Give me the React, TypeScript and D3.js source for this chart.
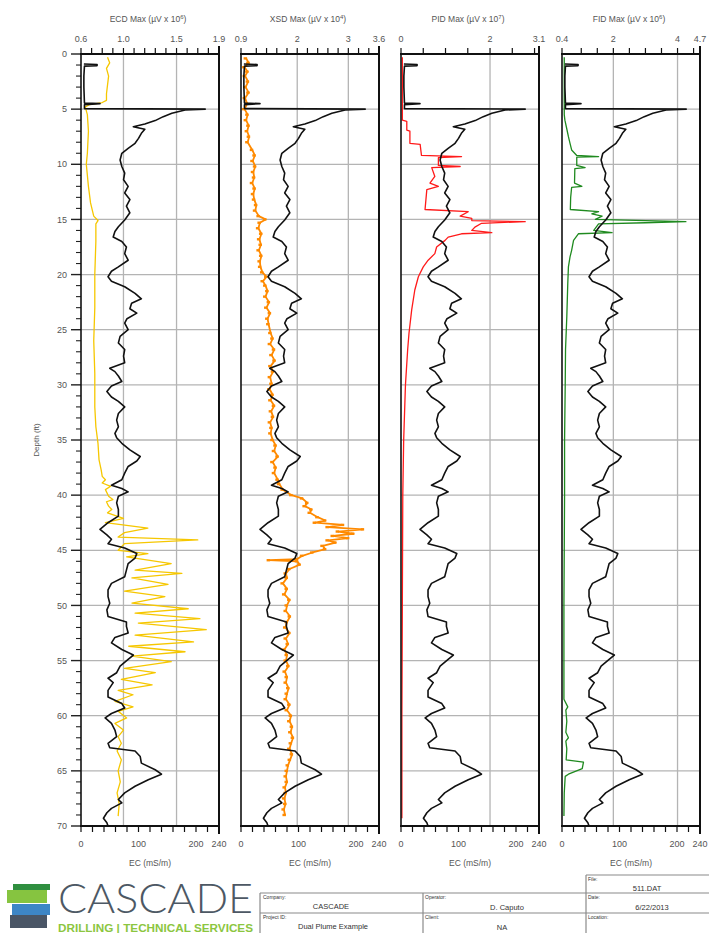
import React from 'react';
import * as d3 from 'd3';

// ---------- DATA ----------
// Depth axis (ft)
const DEPTH_LABELS = [0, 5, 10, 15, 20, 25, 30, 35, 40, 45, 50, 55, 60, 65, 70];

// EC (mS/m) log: [depth ft, EC]
const EC_DATA: [number, number][] = [
  [0.9, 5], [0.95, 28], [1.05, 28], [1.1, 6], [2, 5], [3, 5], [4.45, 6], [4.5, 33], [4.6, 6], [4.95, 6],
  [5.0, 216], [5.08, 181], [5.38, 158], [5.68, 143], [6.04, 129], [6.35, 111], [6.59, 91], [6.83, 111],
  [7.19, 105], [7.65, 100], [8.1, 94], [8.55, 82], [9.0, 71], [9.61, 68], [10.2, 71], [10.8, 76], [11.4, 74],
  [12.0, 82], [12.6, 76], [13.2, 85], [13.8, 79], [14.4, 85], [15.05, 76], [15.66, 65], [16.1, 59], [16.6, 56],
  [17.0, 71], [17.5, 79], [18.1, 76], [18.7, 82], [19.3, 65], [19.7, 53], [20.2, 47], [20.6, 53], [21.1, 76],
  [21.7, 94], [22.2, 105], [22.6, 88], [23.1, 85], [23.5, 97], [24.0, 80], [24.4, 76], [25.0, 82], [25.6, 68],
  [26.2, 65], [26.8, 76], [27.4, 74], [28.0, 76], [28.5, 50], [28.8, 59], [29.2, 65], [29.7, 71], [30.1, 53],
  [30.6, 45], [31.1, 53], [31.5, 65], [32.0, 76], [32.6, 65], [33.2, 62], [33.8, 65], [34.4, 59], [34.8, 62],
  [35.3, 71], [35.9, 85], [36.5, 103], [36.9, 97], [37.4, 82], [38.0, 76], [38.6, 71], [39.1, 53], [39.4, 71],
  [39.7, 82], [40.1, 65], [40.7, 62], [41.3, 65], [41.9, 65], [42.5, 47], [43.1, 33], [43.6, 45], [44.0, 53],
  [44.4, 47], [44.8, 76], [45.3, 97], [45.7, 94], [46.2, 82], [46.8, 79], [47.4, 76], [48.0, 53], [48.6, 47],
  [49.2, 47], [49.8, 50], [50.4, 45], [51.0, 47], [51.5, 79], [51.9, 79], [52.5, 82], [52.9, 59], [53.4, 53],
  [54.0, 71], [54.5, 91], [54.9, 82], [55.5, 68], [56.1, 62], [56.6, 47], [57.0, 56], [57.7, 47], [58.3, 47],
  [58.9, 71], [59.3, 76], [59.8, 53], [60.2, 42], [60.7, 53], [61.3, 59], [61.9, 62], [62.5, 47], [62.9, 50],
  [63.2, 94], [63.7, 103], [64.3, 105], [64.9, 129], [65.3, 140], [65.8, 117], [66.4, 94], [67.0, 76],
  [67.6, 65], [67.9, 71], [68.4, 53], [68.8, 45], [69.3, 39], [69.7, 45], [70.0, 47],
];

// ECD Max (µV x 10^6)
const ECD_DATA: [number, number][] = [
  [0.3, 0.85], [0.8, 0.87], [1.3, 0.84], [2.0, 0.86], [2.8, 0.85], [3.6, 0.84], [4.2, 0.84], [4.4, 0.8],
  [4.6, 0.68], [4.8, 0.64], [5.5, 0.66], [7.0, 0.67], [9, 0.66], [10, 0.65], [12, 0.67], [13.5, 0.69],
  [14.7, 0.72], [15.1, 0.76], [15.4, 0.74], [17, 0.74], [20, 0.73], [23, 0.73], [26, 0.72], [29, 0.73],
  [32, 0.73], [33.8, 0.74], [35.3, 0.76], [36.8, 0.77], [37.7, 0.79], [38.3, 0.8], [38.6, 0.83], [38.9, 0.8],
  [39.2, 0.88], [39.5, 0.83], [40.1, 0.86], [40.4, 0.9], [40.6, 0.84], [41.0, 0.86], [41.3, 0.89], [41.6, 0.85],
  [42.1, 1.0], [42.5, 0.83], [43.0, 1.23], [43.4, 1.01], [43.8, 0.95], [44.06, 1.7], [44.4, 1.01], [45.0, 0.95],
  [45.3, 1.23], [45.6, 1.03], [46.2, 1.45], [46.8, 1.11], [47.1, 1.55], [47.5, 1.08], [48.1, 1.42], [48.7, 1.01],
  [49.2, 1.39], [49.8, 1.08], [50.3, 1.61], [50.7, 1.11], [51.2, 1.72], [51.6, 1.14], [52.2, 1.78], [52.7, 1.11],
  [53.3, 1.66], [53.7, 1.05], [54.2, 1.58], [54.6, 1.08], [55.1, 1.45], [55.7, 1.01], [56.1, 1.3], [56.7, 0.98],
  [57.2, 1.27], [57.7, 0.95], [58.1, 1.09], [58.7, 0.92], [59.2, 1.09], [59.6, 0.95], [60.2, 1.03], [60.7, 0.92],
  [61.3, 1.0], [61.9, 0.95], [62.5, 0.98], [63.2, 0.94], [64, 0.98], [65, 0.95], [66, 0.97], [67, 0.94],
  [68, 0.96], [69.1, 0.95],
];

// XSD Max (µV x 10^4)
const XSD_DATA: [number, number][] = [
  [0.4, 1.0], [0.8, 1.05], [1.2, 0.97], [1.6, 1.03], [2.0, 0.98], [2.5, 1.04], [3.0, 0.99], [3.5, 1.05],
  [4.0, 0.98], [4.5, 1.02], [5.0, 0.97], [5.5, 1.03], [6.0, 1.0], [6.5, 1.05], [7.0, 1.02], [7.5, 1.06],
  [8.0, 1.03], [8.7, 1.12], [9.2, 1.17], [9.7, 1.13], [10.2, 1.18], [10.7, 1.14], [11.2, 1.16], [11.7, 1.12],
  [12.2, 1.17], [12.7, 1.14], [13.2, 1.16], [13.7, 1.2], [14.2, 1.18], [14.7, 1.25], [15.0, 1.38], [15.3, 1.27],
  [15.8, 1.24], [16.3, 1.3], [16.8, 1.26], [17.3, 1.29], [17.8, 1.25], [18.3, 1.3], [18.8, 1.27], [19.3, 1.28],
  [19.8, 1.32], [20.2, 1.4], [20.6, 1.33], [21.0, 1.38], [21.5, 1.42], [22.0, 1.38], [22.5, 1.45], [23.0, 1.4],
  [23.5, 1.47], [24.0, 1.42], [24.5, 1.44], [25.3, 1.48], [25.8, 1.52], [26.3, 1.47], [26.8, 1.55], [27.3, 1.5],
  [27.8, 1.56], [28.3, 1.48], [28.8, 1.53], [29.3, 1.47], [29.9, 1.5], [30.4, 1.46], [30.9, 1.52], [31.4, 1.48],
  [31.9, 1.55], [32.4, 1.49], [32.9, 1.53], [33.4, 1.47], [33.9, 1.5], [34.4, 1.48], [35, 1.52], [35.5, 1.58],
  [36, 1.55], [36.5, 1.62], [37, 1.52], [37.5, 1.58], [38, 1.55], [38.6, 1.62], [39.0, 1.65], [39.5, 1.72],
  [40.0, 1.89], [40.3, 2.1], [40.7, 2.2], [41.0, 2.15], [41.3, 2.28], [41.6, 2.25], [42.0, 2.4], [42.3, 2.55],
  [42.5, 2.35], [42.7, 2.9], [42.9, 2.6], [43.1, 3.29], [43.3, 2.8], [43.5, 3.1], [43.7, 2.7], [43.9, 3.0],
  [44.1, 2.6], [44.3, 2.75], [44.6, 2.5], [44.9, 2.55], [45.2, 2.3], [45.5, 2.1], [45.8, 2.0], [45.9, 1.45],
  [46.0, 2.0], [46.3, 2.05], [46.7, 1.85], [47.1, 1.78], [47.5, 1.8], [48.0, 1.72], [48.5, 1.8], [49.0, 1.75],
  [49.5, 1.85], [50.0, 1.8], [50.5, 1.78], [51.0, 1.86], [51.5, 1.8], [52.0, 1.77], [52.5, 1.85], [53.0, 1.78],
  [53.5, 1.82], [54.0, 1.75], [54.5, 1.8], [55.0, 1.78], [55.5, 1.83], [56.0, 1.76], [56.5, 1.8], [57.0, 1.78],
  [57.5, 1.83], [58.0, 1.8], [58.5, 1.78], [59.0, 1.85], [59.5, 1.8], [60.0, 1.88], [60.5, 1.85], [61.0, 1.9],
  [61.5, 1.87], [62.0, 1.92], [62.5, 1.88], [63.0, 1.85], [63.5, 1.9], [64.0, 1.86], [64.5, 1.82], [65.0, 1.8],
  [65.5, 1.78], [66.0, 1.8], [66.5, 1.76], [67.0, 1.78], [67.5, 1.75], [68.0, 1.77], [68.5, 1.74], [69.0, 1.76],
];

// PID Max (µV x 10^7)
const PID_DATA: [number, number][] = [
  [0.3, 0.03], [6.0, 0.03], [6.1, 0.13], [6.9, 0.13], [7.0, 0.2], [8.1, 0.2], [8.2, 0.43], [9.2, 0.46],
  [9.3, 1.36], [9.4, 0.84], [10.1, 0.84], [10.2, 1.33], [10.3, 0.69], [11.1, 0.76], [11.7, 0.65], [12.0, 0.84],
  [12.3, 0.58], [14.1, 0.54], [14.3, 1.51], [14.7, 1.33], [14.9, 1.59], [15.1, 1.59], [15.2, 2.79], [15.35, 1.81],
  [15.7, 1.66], [16.0, 1.59], [16.2, 2.04], [16.3, 1.36], [16.6, 1.06], [16.9, 0.99], [17.5, 0.8], [18.1, 0.76],
  [18.7, 0.61], [19.3, 0.5], [20.2, 0.39], [21.4, 0.31], [23.2, 0.24], [25.3, 0.18], [26.8, 0.15], [30, 0.1],
  [35, 0.06], [40, 0.04], [50, 0.03], [60, 0.02], [69.3, 0.02],
];

// FID Max (µV x 10^6)
const FID_DATA: [number, number][] = [
  [0.3, 0.47], [5.5, 0.47], [6.0, 0.49], [6.8, 0.55], [7.5, 0.6], [8.1, 0.65], [8.7, 0.7], [9.2, 0.86],
  [9.3, 1.54], [9.35, 0.86], [10.1, 0.86], [10.3, 1.12], [10.4, 0.8], [11.7, 0.79], [12.0, 1.02], [12.1, 0.7],
  [13, 0.67], [14.1, 0.66], [14.3, 1.54], [14.5, 1.33], [14.7, 1.65], [15.0, 1.44], [15.2, 4.26], [15.3, 3.0],
  [15.4, 1.54], [16.0, 1.39], [16.2, 1.96], [16.3, 0.91], [16.9, 0.76], [17.8, 0.7], [18.4, 0.65], [19.3, 0.6],
  [20.8, 0.58], [23.8, 0.55], [26.8, 0.51], [30, 0.5], [35, 0.48], [40, 0.48], [45, 0.47], [50, 0.46],
  [55, 0.46], [58.5, 0.46], [59.2, 0.58], [59.5, 0.52], [60.5, 0.55], [61.5, 0.52], [62.0, 0.6], [62.3, 0.52],
  [63, 0.55], [64.0, 0.53], [64.2, 1.07], [64.8, 1.03], [65.3, 0.6], [65.5, 0.5], [67, 0.47], [69.1, 0.46],
];

// Panel definitions
const TITLES = ['ECD Max (µV x 10', 'XSD Max (µV x 10', 'PID Max (µV x 10', 'FID Max (µV x 10'];
const EXPONENTS = ['6', '4', '7', '6'];
const DOMAINS: [number, number][] = [[0.6, 1.9], [0.9, 3.6], [0, 3.1], [0.4, 4.7]];
const TOP_LABELS = [[0.6, 1.0, 1.5, 1.9], [0.9, 2, 3, 3.6], [0, 2, 3.1], [0.4, 2, 4, 4.7]];
const TOP_LABEL_TEXT = [['0.6', '1.0', '1.5', '1.9'], ['0.9', '2', '3', '3.6'], ['0', '2', '3.1'], ['0.4', '2', '4', '4.7']];
const TOP_TICKS = [
  [0.6, 0.7, 0.8, 0.9, 1.0, 1.1, 1.2, 1.3, 1.4, 1.5, 1.6, 1.7, 1.8, 1.9],
  [0.9, 1.2, 1.4, 1.6, 1.8, 2.0, 2.2, 2.4, 2.6, 2.8, 3.0, 3.2, 3.4, 3.6],
  [0, 0.5, 1, 1.5, 2, 2.5, 3, 3.1],
  [0.4, 1, 1.5, 2, 2.5, 3, 3.5, 4, 4.5, 4.7],
];
const V_GRID = [[1.0, 1.5], [2, 3], [2], [2, 4]];
const SERIES = [ECD_DATA, XSD_DATA, PID_DATA, FID_DATA];
const COLORS = ['#f6c700', '#ff8a00', '#ff1a1a', '#1f8a1f'];

const EC_DOMAIN: [number, number] = [0, 240];
const EC_LABELS = [0, 100, 200, 240];
const EC_TICKS = [0, 20, 40, 60, 80, 100, 120, 140, 160, 180, 200, 220, 240];
const EC_TITLE = 'EC (mS/m)';

// Title block
const COMPANY = 'CASCADE';
const PROJECT = 'Dual Plume Example';
const OPERATOR = 'D. Caputo';
const CLIENT = 'NA';
const FILE = '511.DAT';
const DATE = '6/22/2013';

// ---------- LAYOUT ----------
const W = 709;
const H = 933;
const PANEL_LEFT = [81, 241, 401, 562];
const PANEL_W = 138;
const TOP = 54;
const BOTTOM = 826;
const FONT = "'Liberation Sans', Arial, sans-serif";

export default function App() {
  const y = d3.scaleLinear().domain([0, 70]).range([TOP, BOTTOM]);
  const depthMinor = d3.range(0, 71, 1);
  const hGrid = DEPTH_LABELS.filter((d) => d > 0 && d < 70);

  return (
    <svg
      width={W}
      height={H}
      viewBox={`0 0 ${W} ${H}`}
      style={{ position: 'absolute', left: 0, top: 0, background: '#fff' }}
      fontFamily={FONT}
    >
      <rect x={0} y={0} width={W} height={H} fill="#fff" />

      {/* Depth axis (left of panel 1) */}
      {depthMinor.map((d) => (
        <line
          key={'dt' + d}
          x1={d % 5 === 0 ? PANEL_LEFT[0] - 10 : PANEL_LEFT[0] - 5}
          x2={PANEL_LEFT[0]}
          y1={y(d)}
          y2={y(d)}
          stroke="#222"
          strokeWidth={d % 5 === 0 ? 1.4 : 1.1}
        />
      ))}
      {DEPTH_LABELS.map((d) => (
        <text key={'dl' + d} x={PANEL_LEFT[0] - 14} y={y(d) + 3.2} fontSize={9} textAnchor="end" fill="#555">
          {d}
        </text>
      ))}
      <text
        transform={`translate(39, ${y(35)}) rotate(-90)`}
        fontSize={8}
        textAnchor="middle"
        fill="#555"
      >
        Depth (ft)
      </text>

      {PANEL_LEFT.map((x0, i) => {
        const x1 = x0 + PANEL_W;
        const xs = d3.scaleLinear().domain(DOMAINS[i]).range([x0, x1]);
        const xe = d3.scaleLinear().domain(EC_DOMAIN).range([x0, x1]);
        const serLine = d3
          .line<[number, number]>()
          .x((d) => xs(d[1]))
          .y((d) => y(d[0]));
        const ecLine = d3
          .line<[number, number]>()
          .x((d) => xe(d[1]))
          .y((d) => y(d[0]));
        const cx = (x0 + x1) / 2;
        return (
          <g key={'p' + i}>
            {/* grid */}
            {hGrid.map((d) => (
              <line key={'hg' + d} x1={x0} x2={x1} y1={y(d)} y2={y(d)} stroke="#b4b4b4" strokeWidth={1.3} />
            ))}
            {V_GRID[i].map((v) => (
              <line key={'vg' + v} x1={xs(v)} x2={xs(v)} y1={TOP} y2={BOTTOM} stroke="#b4b4b4" strokeWidth={1.3} />
            ))}

            {/* colored series */}
            <path
              d={serLine(SERIES[i]) || ''}
              fill="none"
              stroke={COLORS[i]}
              strokeWidth={i === 1 ? 1.8 : 1.3}
              strokeLinejoin="round"
            />
            {i === 1 &&
              SERIES[i].map((d, k) => (
                <rect key={'sq' + k} x={xs(d[1]) - 2.5} y={y(d[0]) - 1.2} width={3.5} height={2.4} fill={COLORS[i]} />
              ))}

            {/* EC */}
            <path d={ecLine(EC_DATA) || ''} fill="none" stroke="#111" strokeWidth={1.6} strokeLinejoin="round" />

            {/* frame */}
            <line x1={x0} x2={x0} y1={TOP} y2={BOTTOM} stroke="#111" strokeWidth={1.6} />
            <line x1={x1} x2={x1} y1={TOP - 8} y2={BOTTOM + 8} stroke="#111" strokeWidth={2} />
            <line x1={x0 - 1} x2={x1} y1={TOP} y2={TOP} stroke="#111" strokeWidth={2} />
            <line x1={x0 - 1} x2={x1} y1={BOTTOM} y2={BOTTOM} stroke="#111" strokeWidth={2} />

            {/* top ticks */}
            {TOP_TICKS[i].map((v) => (
              <line key={'tt' + v} x1={xs(v)} x2={xs(v)} y1={TOP} y2={TOP - 6} stroke="#111" strokeWidth={1.2} />
            ))}
            {TOP_LABELS[i].map((v, k) => (
              <text key={'tl' + v} x={xs(v)} y={42} fontSize={9} textAnchor="middle" fill="#555">
                {TOP_LABEL_TEXT[i][k]}
              </text>
            ))}
            <text x={cx - 2} y={22} fontSize={8.5} textAnchor="middle" fill="#555">
              {TITLES[i]}
              <tspan dy={-3.5} fontSize={6}>
                {EXPONENTS[i]}
              </tspan>
              <tspan dy={3.5}>)</tspan>
            </text>

            {/* bottom EC axis */}
            {EC_TICKS.map((v) => (
              <line key={'bt' + v} x1={xe(v)} x2={xe(v)} y1={BOTTOM} y2={BOTTOM + 6} stroke="#111" strokeWidth={1.2} />
            ))}
            {EC_LABELS.map((v) => (
              <text key={'bl' + v} x={xe(v)} y={847} fontSize={9} textAnchor="middle" fill="#555">
                {v}
              </text>
            ))}
            <text x={cx} y={866} fontSize={8.5} textAnchor="middle" fill="#555">
              {EC_TITLE}
            </text>
          </g>
        );
      })}

      {/* Logo */}
      <g>
        <rect x={13} y={884} width={37} height={6} fill="#2f8f3f" />
        <rect x={7} y={890} width={40} height={13} fill="#86c440" />
        <rect x={12} y={904} width={38} height={11} fill="#3d86c6" />
        <rect x={10} y={915} width={37} height={13} fill="#4a5666" />
        <text
          x={58}
          y={913}
          fontSize={42}
          fontFamily="Lato, 'Open Sans', sans-serif"
          fontWeight={300}
          fill="#4d5864"
          textLength={195}
          lengthAdjust="spacingAndGlyphs"
        >
          CASCADE
        </text>
        <text
          x={58}
          y={932}
          fontSize={10.5}
          fontFamily="'Liberation Sans Narrow', 'Liberation Sans', Arial, sans-serif"
          fontWeight={700}
          fill="#8cc63f"
          textLength={195}
          lengthAdjust="spacingAndGlyphs"
        >
          DRILLING | TECHNICAL SERVICES
        </text>
      </g>

      {/* Title block */}
      <g stroke="#8a8a8a" strokeWidth={1.2} fill="none">
        <line x1={586} x2={720} y1={875} y2={875} />
        <line x1={260} x2={720} y1={893} y2={893} />
        <line x1={260} x2={720} y1={913} y2={913} />
        <line x1={260} x2={260} y1={893} y2={940} />
        <line x1={423} x2={423} y1={893} y2={940} />
        <line x1={586} x2={586} y1={875} y2={940} />
      </g>
      <g fill="#333">
        <text x={263} y={899} fontSize={5}>Company:</text>
        <text x={331} y={909} fontSize={7.5} textAnchor="middle">{COMPANY}</text>
        <text x={263} y={919} fontSize={5}>Project ID:</text>
        <text x={333} y={929} fontSize={7.5} textAnchor="middle">{PROJECT}</text>
        <text x={425} y={899} fontSize={5}>Operator:</text>
        <text x={507} y={910} fontSize={7.5} textAnchor="middle">{OPERATOR}</text>
        <text x={425} y={919} fontSize={5}>Client:</text>
        <text x={502} y={930} fontSize={7.5} textAnchor="middle">{CLIENT}</text>
        <text x={588} y={881} fontSize={5}>File:</text>
        <text x={647} y={891} fontSize={7.5} textAnchor="middle">{FILE}</text>
        <text x={588} y={899} fontSize={5}>Date:</text>
        <text x={652} y={910} fontSize={7.5} textAnchor="middle">{DATE}</text>
        <text x={588} y={919} fontSize={5}>Location:</text>
      </g>
    </svg>
  );
}
